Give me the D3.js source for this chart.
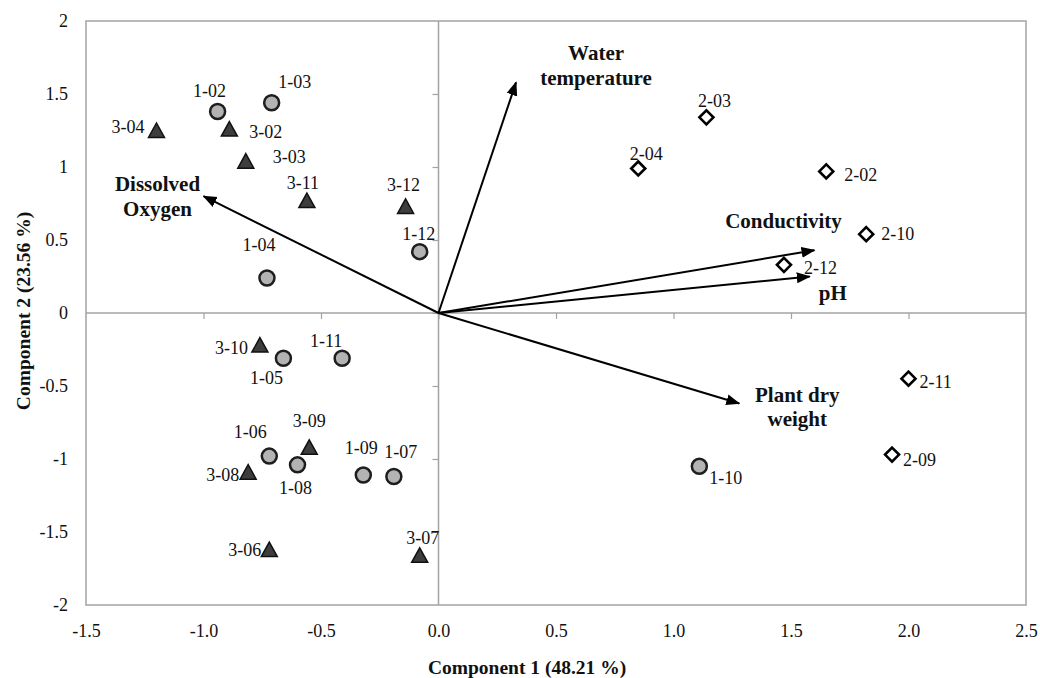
<!DOCTYPE html>
<html>
<head>
<meta charset="utf-8">
<script src="https://cdn.jsdelivr.net/npm/d3@7"></script>
<style>
  html, body { margin: 0; padding: 0; background: #fff; }
  svg { display: block; }
  text { font-family: "Liberation Serif", "Times New Roman", serif; fill: #111; }
</style>
</head>
<body>
<svg id="chart" width="1040" height="678"></svg>
<script>
// Site scores on the first two principal components
const site1Names = ["1-02", "1-03", "1-04", "1-05", "1-06", "1-07", "1-08", "1-09", "1-10", "1-11", "1-12"];
const site1X = [-0.94, -0.71, -0.73, -0.66, -0.72, -0.19, -0.60, -0.32, 1.11, -0.41, -0.08];
const site1Y = [1.38, 1.44, 0.24, -0.31, -0.98, -1.12, -1.04, -1.11, -1.05, -0.31, 0.42];

const site2Names = ["2-02", "2-03", "2-04", "2-09", "2-10", "2-11", "2-12"];
const site2X = [1.65, 1.14, 0.85, 1.93, 1.82, 2.00, 1.47];
const site2Y = [0.97, 1.34, 0.99, -0.97, 0.54, -0.45, 0.33];

const site3Names = ["3-02", "3-03", "3-04", "3-06", "3-07", "3-08", "3-09", "3-10", "3-11", "3-12"];
const site3X = [-0.89, -0.82, -1.20, -0.72, -0.08, -0.81, -0.55, -0.76, -0.56, -0.14];
const site3Y = [1.26, 1.04, 1.25, -1.62, -1.66, -1.09, -0.92, -0.22, 0.77, 0.73];

// Variable loadings (biplot vectors)
const vectorNames = ["Water temperature", "Dissolved Oxygen", "Conductivity", "pH", "Plant dry weight"];
const vectorX = [0.33, -1.00, 1.60, 1.58, 1.28];
const vectorY = [1.58, 0.80, 0.43, 0.25, -0.62];

// Axis ticks
const xTicks = [-1.5, -1.0, -0.5, 0.0, 0.5, 1.0, 1.5, 2.0, 2.5];
const xTickLabels = ["-1.5", "-1.0", "-0.5", "0.0", "0.5", "1.0", "1.5", "2.0", "2.5"];
const yTicks = [2, 1.5, 1, 0.5, 0, -0.5, -1, -1.5, -2];
const yTickLabels = ["2", "1.5", "1", "0.5", "0", "-0.5", "-1", "-1.5", "-2"];

const xTitle = "Component 1 (48.21 %)";
const yTitle = "Component 2 (23.56 %)";

// Label placement relative to each marker: [dx, dy, anchor]
const labelPlacement = {
  "1-02": [-8, -21, "middle"], "1-03": [23, -21, "middle"], "1-04": [-8, -33, "middle"],
  "1-05": [-17, 19, "middle"], "1-06": [-19, -24, "middle"], "1-07": [7, -25, "middle"],
  "1-08": [-2, 23, "middle"], "1-09": [-2, -27, "middle"], "1-10": [10, 11, "start"],
  "1-11": [-16, -18, "middle"], "1-12": [-1, -18, "middle"],
  "2-02": [18, 3, "start"], "2-03": [8, -17, "middle"], "2-04": [8, -15, "middle"],
  "2-09": [11, 5, "start"], "2-10": [15, 0, "start"], "2-11": [11, 3, "start"],
  "2-12": [20, 3, "start"],
  "3-02": [20, 3, "start"], "3-03": [27, -4, "start"], "3-04": [-12, -4, "end"],
  "3-06": [-8, 0, "end"], "3-07": [3, -18, "middle"], "3-08": [-9, 3, "end"],
  "3-09": [0, -27, "middle"], "3-10": [-12, 3, "end"], "3-11": [-4, -18, "middle"],
  "3-12": [-2, -22, "middle"]
};
// Vector label placement relative to arrow tip: [lines, dx, dy of first line, line gap]
const vectorLabelLines = {
  "Water temperature": [["Water", "temperature"], 80, -30, 25],
  "Dissolved Oxygen": [["Dissolved", "Oxygen"], -46, -13, 25],
  "Conductivity": [["Conductivity"], -31, -30, 0],
  "pH": [["pH"], 23, 16, 0],
  "Plant dry weight": [["Plant dry", "weight"], 58, -9, 24]
};

const svg = d3.select("#chart");
const x = d3.scaleLinear().domain([-1.5, 2.5]).range([86, 1026]);
const y = d3.scaleLinear().domain([-2, 2]).range([605, 21]);
const grey = "#a3a3a3";

// Plot frame
svg.append("rect")
  .attr("x", x(-1.5)).attr("y", y(2))
  .attr("width", x(2.5) - x(-1.5)).attr("height", y(-2) - y(2))
  .attr("fill", "none").attr("stroke", grey).attr("stroke-width", 1.5);

// Zero axes with their tick marks
const xZero = svg.append("g").attr("transform", `translate(0,${y(0)})`)
  .call(d3.axisBottom(x).tickValues(xTicks.slice(1, -1)).tickSize(6).tickFormat(""));
const yZero = svg.append("g").attr("transform", `translate(${x(0)},0)`)
  .call(d3.axisLeft(y).tickValues(yTicks.slice(1, -1)).tickSize(6).tickFormat(""));
[xZero, yZero].forEach(g => {
  g.select(".domain").attr("stroke", grey).attr("stroke-width", 1.5);
  g.selectAll(".tick line").attr("stroke", grey).attr("stroke-width", 1.2);
});
xZero.select(".domain").attr("d", `M${x(-1.5)},0H${x(2.5)}`);
yZero.select(".domain").attr("d", `M0,${y(2)}V${y(-2)}`);

// Tick labels along the frame edges
const xAxis = svg.append("g").attr("transform", `translate(0,${y(-2)})`)
  .call(d3.axisBottom(x).tickValues(xTicks).tickSize(0).tickPadding(19)
    .tickFormat((d, i) => xTickLabels[i]));
const yAxis = svg.append("g").attr("transform", `translate(${x(-1.5)},0)`)
  .call(d3.axisLeft(y).tickValues(yTicks).tickSize(0).tickPadding(18)
    .tickFormat((d, i) => yTickLabels[i]));
[xAxis, yAxis].forEach(g => {
  g.select(".domain").remove();
  g.selectAll("text").attr("font-size", 18).attr("font-family", "Liberation Serif").attr("fill", "#111");
});

// Axis titles
svg.append("text").attr("x", 527).attr("y", 667).attr("dy", "0.35em")
  .attr("text-anchor", "middle").attr("font-weight", "bold").attr("font-size", 19.5)
  .text(xTitle);
svg.append("text").attr("transform", "translate(23,311) rotate(-90)").attr("dy", "0.35em")
  .attr("text-anchor", "middle").attr("font-weight", "bold").attr("font-size", 19.5)
  .text(yTitle);

// Biplot arrows
svg.append("defs").append("marker")
  .attr("id", "head").attr("markerUnits", "userSpaceOnUse")
  .attr("viewBox", "0 -6 14 12").attr("refX", 13).attr("refY", 0)
  .attr("markerWidth", 14).attr("markerHeight", 12).attr("orient", "auto")
  .append("path").attr("d", "M0,-5.5L14,0L0,5.5Z").attr("fill", "#000");

const vectors = vectorNames.map((n, i) => ({ name: n, vx: vectorX[i], vy: vectorY[i] }));
svg.append("g").selectAll("line").data(vectors).join("line")
  .attr("x1", x(0)).attr("y1", y(0))
  .attr("x2", d => x(d.vx)).attr("y2", d => y(d.vy))
  .attr("stroke", "#000").attr("stroke-width", 2)
  .attr("marker-end", "url(#head)");

const vLabels = svg.append("g").selectAll("text").data(vectors).join("text")
  .attr("text-anchor", "middle").attr("font-weight", "bold").attr("font-size", 21);
vLabels.each(function (d) {
  const [lines, dx, dy, gap] = vectorLabelLines[d.name];
  d3.select(this).selectAll("tspan").data(lines).join("tspan")
    .attr("x", x(d.vx) + dx)
    .attr("y", (l, j) => y(d.vy) + dy + j * gap)
    .attr("dy", "0.35em")
    .text(l => l);
});

// Site markers
const toPoints = (names, xs, ys) => names.map((n, i) => ({ name: n, px: xs[i], py: ys[i] }));
const site1 = toPoints(site1Names, site1X, site1Y);
const site2 = toPoints(site2Names, site2X, site2Y);
const site3 = toPoints(site3Names, site3X, site3Y);

svg.append("g").selectAll("circle").data(site1).join("circle")
  .attr("cx", d => x(d.px)).attr("cy", d => y(d.py)).attr("r", 7.5)
  .attr("fill", "#b3b3b3").attr("stroke", "#1e1e1e").attr("stroke-width", 2.5);

svg.append("g").selectAll("path").data(site2).join("path")
  .attr("transform", d => `translate(${x(d.px)},${y(d.py)})`)
  .attr("d", "M0,-7L7,0L0,7L-7,0Z")
  .attr("fill", "#fff").attr("stroke", "#000").attr("stroke-width", 2.6);

svg.append("g").selectAll("path").data(site3).join("path")
  .attr("transform", d => `translate(${x(d.px)},${y(d.py)})`)
  .attr("d", "M0,-7.5L8,7L-8,7Z")
  .attr("fill", "#3d3d3d").attr("stroke", "#111").attr("stroke-width", 1.5);

// Site labels
svg.append("g").selectAll("text").data(site1.concat(site2, site3)).join("text")
  .attr("x", d => x(d.px) + labelPlacement[d.name][0])
  .attr("y", d => y(d.py) + labelPlacement[d.name][1])
  .attr("dy", "0.35em")
  .attr("text-anchor", d => labelPlacement[d.name][2])
  .attr("font-size", 18)
  .text(d => d.name);
</script>
</body>
</html>
